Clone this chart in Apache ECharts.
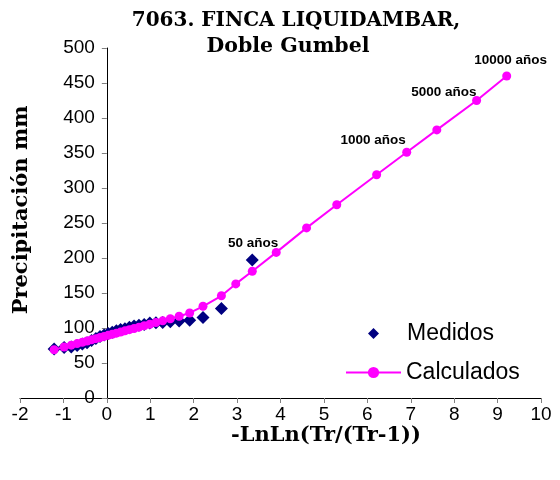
<!DOCTYPE html>
<html>
<head>
<meta charset="utf-8">
<script src="https://cdn.jsdelivr.net/npm/echarts@6/dist/echarts.min.js"></script>
<style>html,body{margin:0;padding:0;background:#fff}#c{width:560px;height:480px}</style>
</head>
<body>
<div id="c"></div>
<script>
// Measured (Medidos): reduced variate and precipitation
const xMedidos = [-1.214, -0.984, -0.819, -0.684, -0.564, -0.455, -0.352, -0.253, -0.157, -0.063, 0.031, 0.125, 0.220, 0.317, 0.417, 0.520, 0.627, 0.740, 0.861, 0.990, 1.131, 1.286, 1.462, 1.665, 1.908, 2.215, 2.639, 3.350];
const yMedidos = [70, 72, 73, 75, 77, 79, 82, 85, 88, 90, 92, 94, 96, 98, 99, 101, 103, 104, 105, 107, 107.5, 108, 109, 110, 111, 115, 128, 197];
// Calculated (Calculados)
const xCalculados = [-1.214, -0.984, -0.819, -0.684, -0.564, -0.455, -0.352, -0.253, -0.157, -0.063, 0.031, 0.125, 0.220, 0.317, 0.417, 0.520, 0.627, 0.740, 0.861, 0.990, 1.131, 1.286, 1.462, 1.665, 1.908, 2.215, 2.639, 2.970, 3.350, 3.902, 4.600, 5.296, 6.214, 6.907, 7.600, 8.517, 9.210];
const yCalculados = [69, 72.8, 75.5, 77.7, 79.7, 81.5, 83.2, 84.8, 86.4, 88, 89.5, 91, 92.6, 94.2, 95.9, 97.6, 99.3, 101.2, 103.2, 105.3, 107.7, 110.2, 113.2, 116.8, 121.5, 131, 146, 163, 181, 208, 243, 276, 319, 351, 383, 425, 460];
// Return-period labels
const periodLabels = ['50 años', '1000 años', '5000 años', '10000 años'];
const periodX = [3.902, 6.907, 8.517, 9.210];
// Axis ticks
const xTicks = {min: -2, max: 10, interval: 1};
const yTicks = {min: 0, max: 500, interval: 50};
const seriesNames = ['Medidos', 'Calculados'];
const titleLines = ['7063. FINCA LIQUIDAMBAR,', 'Doble Gumbel'];
const xName = '-LnLn(Tr/(Tr-1))';
const yName = 'Precipitación mm';

const labelOffsets = [[2, 2], [-1, -1], [0, 3], [4, -4]];
const labelAligns = ['right', 'right', 'right', 'center'];

const medData = xMedidos.map((x, i) => [x, yMedidos[i]]);
const calcData = xCalculados.map((x, i) => {
  const k = periodX.indexOf(x);
  if (k < 0) return [x, yCalculados[i]];
  return {
    value: [x, yCalculados[i]],
    label: {
      show: true, formatter: periodLabels[k], position: 'top', distance: 0,
      align: labelAligns[k], verticalAlign: 'bottom', offset: labelOffsets[k],
      fontFamily: '"Liberation Sans", Arial, sans-serif',
      fontWeight: 'bold', fontSize: 13.5, color: '#000'
    }
  };
});

const serif = '"DejaVu Serif", serif';
const sans = '"Liberation Sans", Arial, sans-serif';
const gridLeft = 20, gridRight = 19;
const chartW = 560;
const zeroPx = gridLeft + (0 - xTicks.min) / (xTicks.max - xTicks.min) * (chartW - gridLeft - gridRight);

const chart = echarts.init(document.getElementById('c'), null, {renderer: 'canvas'});
chart.setOption({
  animation: false,
  backgroundColor: '#fff',
  grid: {left: gridLeft, right: gridRight, top: 48, bottom: 82, containLabel: false, outerBoundsMode: 'none'},
  xAxis: {
    type: 'value', min: xTicks.min, max: xTicks.max, interval: xTicks.interval,
    splitLine: {show: false},
    axisLine: {onZero: false, lineStyle: {color: '#000', width: 1}},
    axisTick: {show: true, length: 5, lineStyle: {color: '#808080'}},
    axisLabel: {color: '#000', fontSize: 19, fontFamily: sans, margin: 7}
  },
  yAxis: {
    type: 'value', min: yTicks.min, max: yTicks.max, interval: yTicks.interval,
    offset: -(zeroPx - gridLeft),
    splitLine: {show: false},
    axisLine: {onZero: false, lineStyle: {color: '#000', width: 1}},
    axisTick: {show: true, length: 5, lineStyle: {color: '#808080'}},
    axisLabel: {color: '#000', fontSize: 19, fontFamily: sans, margin: 12}
  },
  legend: [
    {
      data: [{name: seriesNames[0], icon: 'diamond'}],
      left: 368, top: 322, padding: 0, itemWidth: 11, itemHeight: 11,
      textStyle: {fontSize: 23, color: '#000', fontFamily: sans, padding: [0, 0, 0, 23]}
    },
    {
      data: [seriesNames[1]],
      left: 345, top: 361, padding: 0, itemWidth: 55, itemHeight: 14,
      textStyle: {fontSize: 23, color: '#000', fontFamily: sans}
    }
  ],
  graphic: [
    {type: 'text', style: {text: titleLines[0], x: 296, y: 21, align: 'center', verticalAlign: 'middle', font: 'bold 20px ' + serif, fill: '#000'}},
    {type: 'text', style: {text: titleLines[1], x: 288, y: 47, align: 'center', verticalAlign: 'middle', font: 'bold 20.5px ' + serif, fill: '#000'}},
    {type: 'text', style: {text: xName, x: 326, y: 436, align: 'center', verticalAlign: 'middle', font: 'bold 21px ' + serif, fill: '#000'}},
    {type: 'text', rotation: Math.PI / 2, x: 22, y: 210, style: {text: yName, x: 0, y: 0, align: 'center', verticalAlign: 'middle', font: 'bold 21px ' + serif, fill: '#000'}}
  ],
  series: [
    {
      name: seriesNames[0], type: 'scatter', data: medData,
      symbol: 'diamond', symbolSize: 13,
      itemStyle: {color: '#000080', opacity: 1}
    },
    {
      name: seriesNames[1], type: 'line', data: calcData,
      symbol: 'circle', symbolSize: 9, showSymbol: true,
      lineStyle: {color: '#FF00FF', width: 2},
      itemStyle: {color: '#FF00FF'}
    }
  ]
});
</script>
</body>
</html>
